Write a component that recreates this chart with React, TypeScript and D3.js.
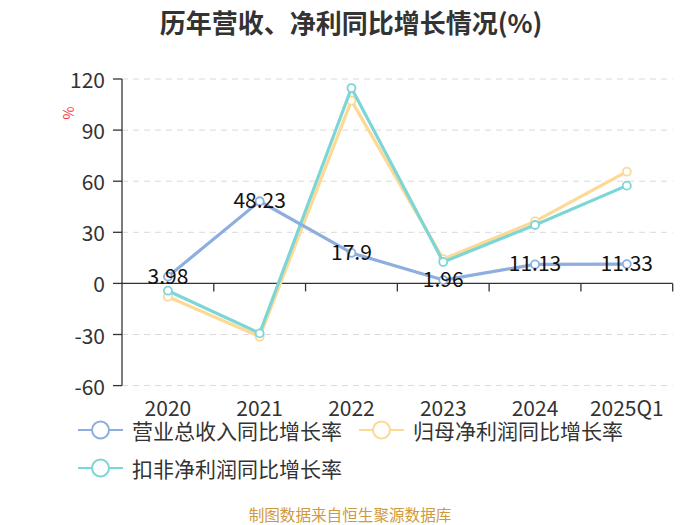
import React from "react";
import * as d3 from "d3";

const categories = ["2020", "2021", "2022", "2023", "2024", "2025Q1"];
const revenueGrowth = [3.98, 48.23, 17.9, 1.96, 11.13, 11.33];
const netProfitGrowth = [-7.8, -31.3, 107.3, 14.3, 36.4, 65.6];
const deductedProfitGrowth = [-4.3, -29.3, 114.7, 12.6, 34.3, 57.4];
const yTicks = [-60, -30, 0, 30, 60, 90, 120];
const seriesNames = ["营业总收入同比增长率", "归母净利润同比增长率", "扣非净利润同比增长率"];
const colors = ["#8eaee0", "#fdd995", "#7dd6d6"];

const W = 700;
const H = 525;
const left = 122;
const right = 672.7;
const top = 79;
const bottom = 385.6;
const font = "'Noto Sans CJK SC', 'Noto Sans', sans-serif";

export default function App() {
  const x = d3.scaleBand<string>().domain(categories).range([left, right]);
  const y = d3.scaleLinear().domain([-60, 120]).range([bottom, top]);
  const cx = (c: string) => (x(c) ?? 0) + x.bandwidth() / 2;
  const line = d3
    .line<number>()
    .x((_, i) => cx(categories[i]))
    .y((d) => y(d));
  const series = [revenueGrowth, netProfitGrowth, deductedProfitGrowth];
  const drawOrder = [1, 2, 0];
  const legendPos = [
    { lx: 78, ly: 430 },
    { lx: 359, ly: 430 },
    { lx: 78, ly: 468 },
  ];

  return (
    <svg width={W} height={H} style={{ position: "absolute", left: 0, top: 0, background: "#fff" }}>
      <text x={351} y={21} textAnchor="middle" dominantBaseline="central" fontFamily={font} fontWeight="bold" fontSize={26} fill="#333">
        历年营收、净利同比增长情况(%)
      </text>
      <text x={68} y={113} textAnchor="middle" dominantBaseline="central" fontFamily={font} fontSize={14} fill="#ff3333" transform="rotate(-90 68 113)">
        %
      </text>
      {yTicks.map((t) => (
        <g key={t}>
          {t !== 0 && (
            <line x1={left} x2={right} y1={y(t)} y2={y(t)} stroke="#d9d9d9" strokeDasharray="6 5" strokeWidth={1} />
          )}
          <line x1={left - 9} x2={left} y1={y(t)} y2={y(t)} stroke="#333" strokeWidth={1.3} />
          <text x={left - 17} y={y(t)} textAnchor="end" dominantBaseline="central" fontFamily={font} fontSize={21} fill="#333">
            {t}
          </text>
        </g>
      ))}
      <line x1={left} x2={left} y1={top} y2={bottom} stroke="#333" strokeWidth={1.3} />
      <line x1={left} x2={right} y1={y(0)} y2={y(0)} stroke="#333" strokeWidth={1.3} />
      {categories.map((c) => (
        <line key={c} x1={(x(c) ?? 0) + x.bandwidth()} x2={(x(c) ?? 0) + x.bandwidth()} y1={y(0)} y2={y(0) + 8} stroke="#333" strokeWidth={1.3} />
      ))}
      {categories.map((c) => (
        <text key={c} x={cx(c)} y={407} textAnchor="middle" dominantBaseline="central" fontFamily={font} fontSize={21} fill="#333">
          {c}
        </text>
      ))}
      {drawOrder.map((si) => (
        <g key={si}>
          <path d={line(series[si]) ?? ""} fill="none" stroke={colors[si]} strokeWidth={3.2} strokeLinejoin="round" />
          {series[si].map((v, i) => (
            <circle key={i} cx={cx(categories[i])} cy={y(v)} r={4} fill="#fff" stroke={colors[si]} strokeWidth={1.8} />
          ))}
        </g>
      ))}
      {revenueGrowth.map((v, i) => (
        <text key={i} x={cx(categories[i])} y={y(v) - 2} textAnchor="middle" dominantBaseline="central" fontFamily={font} fontSize={21} fill="#111">
          {v}
        </text>
      ))}
      {seriesNames.map((name, i) => {
        const { lx, ly } = legendPos[i];
        return (
          <g key={name}>
            <line x1={lx} x2={lx + 45} y1={ly} y2={ly} stroke={colors[i]} strokeWidth={2} />
            <circle cx={lx + 22.5} cy={ly} r={8.5} fill="#fff" stroke={colors[i]} strokeWidth={2} />
            <text x={lx + 54} y={ly} dominantBaseline="central" fontFamily={font} fontSize={21} fill="#333">
              {name}
            </text>
          </g>
        );
      })}
      <text x={350} y={514} textAnchor="middle" dominantBaseline="central" fontFamily={font} fontSize={15.6} fill="#d09a3a">
        制图数据来自恒生聚源数据库
      </text>
    </svg>
  );
}
